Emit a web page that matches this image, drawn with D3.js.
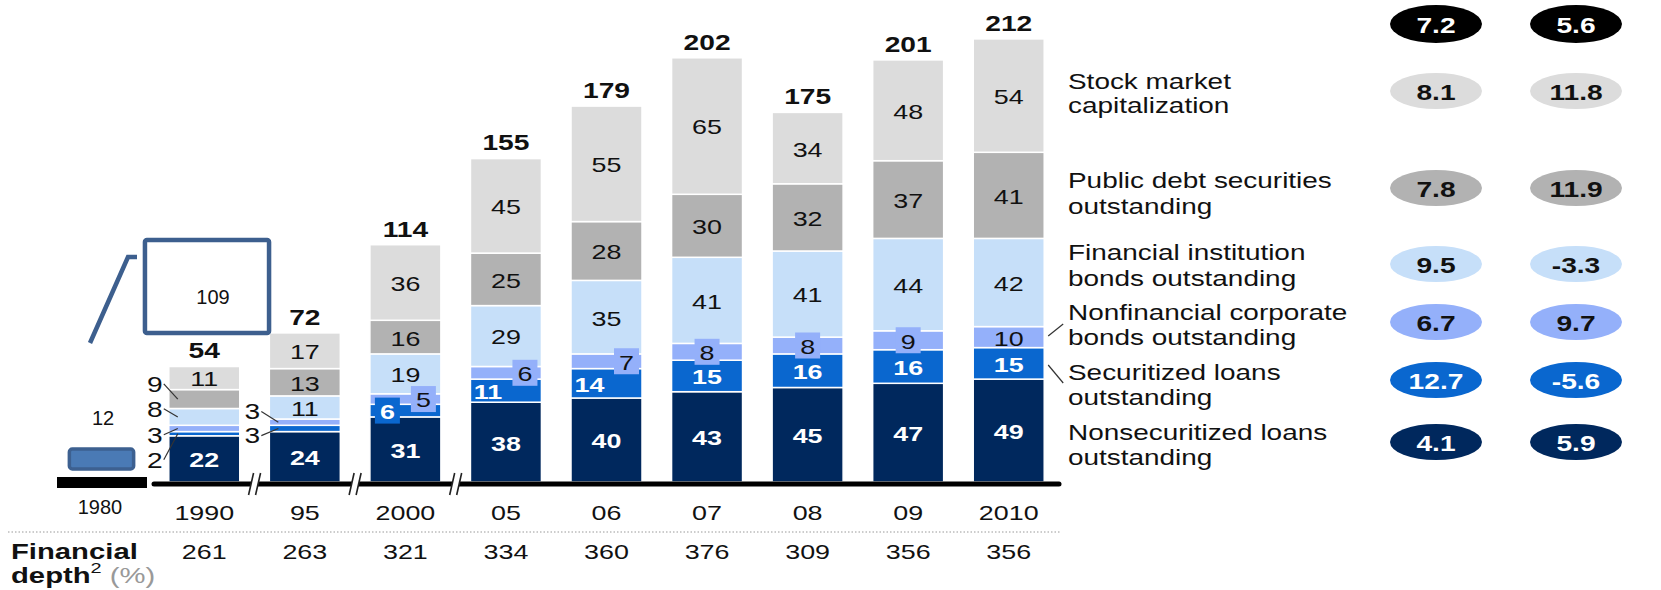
<!DOCTYPE html>
<html>
<head>
<meta charset="utf-8">
<script src="https://cdn.jsdelivr.net/npm/d3@7"></script>
<style>
  body { margin: 0; background: white; }
  text { font-family: "Liberation Sans", Arial, sans-serif; }
</style>
</head>
<body>
<div id="container"></div>
<script>
// Global financial stock by asset class, $ trillion

const width = 1661;
const height = 590;

const years = ["1990", "95", "2000", "05", "06", "07", "08", "09", "2010"];
const nonsecLoans = [22, 24, 31, 38, 40, 43, 45, 47, 49];
const securLoans = [2, 3, 6, 11, 14, 15, 16, 16, 15];
const nonfinBonds = [3, 3, 5, 6, 7, 8, 8, 9, 10];
const finBonds = [8, 11, 19, 29, 35, 41, 41, 44, 42];
const publicDebt = [9, 13, 16, 25, 28, 30, 32, 37, 41];
const stockCap = [11, 17, 36, 45, 55, 65, 34, 48, 54];
const totals = [54, 72, 114, 155, 179, 202, 175, 201, 212];
const finDepth = [261, 263, 321, 334, 360, 376, 309, 356, 356];
const breaksAfter = ["1990", "95", "2000"];

const value1980 = 12;
const value1980Box = 109;

// growth rates, first and second oval column (total first)
const growthTotal = [7.2, 5.6];
const growthA = [4.1, 12.7, 6.7, 9.5, 7.8, 8.1];
const growthB = [5.9, -5.6, 9.7, -3.3, 11.9, 11.8];

const keys = ["nonsec", "secur", "nonfin", "fin", "pub", "stock"];
const seriesLabels = [
    ["Nonsecuritized loans", "outstanding"],
    ["Securitized loans", "outstanding"],
    ["Nonfinancial corporate", "bonds outstanding"],
    ["Financial institution", "bonds outstanding"],
    ["Public debt securities", "outstanding"],
    ["Stock market", "capitalization"]
];

const colors = d3.scaleOrdinal()
    .domain(keys)
    .range(["#00285d", "#0a67cf", "#94b0fa", "#c6dff9", "#b2b2b2", "#dcdcdc"]);

const SX = 1.28; // the source text is stretched sideways

const svg = d3.select("#container")
    .append("svg")
    .attr("width", width)
    .attr("height", height)
    .style("background-color", "white");

function txt(g, x, y, s, o = {}) {
    return g.append("text")
        .attr("transform", `translate(${x},${y}) scale(${o.sx || SX},1)`)
        .attr("text-anchor", o.anchor || "middle")
        .attr("dominant-baseline", "central")
        .style("font-size", (o.size || 21) + "px")
        .style("font-weight", o.bold ? "bold" : "normal")
        .attr("fill", o.fill || "#111")
        .text(s);
}

const table = years.map((y, i) => ({
    year: y,
    nonsec: nonsecLoans[i], secur: securLoans[i], nonfin: nonfinBonds[i],
    fin: finBonds[i], pub: publicDebt[i], stock: stockCap[i],
    total: totals[i], depth: finDepth[i]
}));

const stacked = d3.stack().keys(keys)(table);

const x = d3.scaleBand()
    .domain(years)
    .range([154, 1059])
    .paddingInner(0.294)
    .paddingOuter(0.147);

const baseY = 482;
const y = d3.scaleLinear()
    .domain([0, 212])
    .range([baseY, baseY - 212 * 2.1]);

// bars
const gBars = svg.append("g");
stacked.forEach(s => {
    gBars.selectAll(null)
        .data(s)
        .join("rect")
        .attr("x", d => x(d.data.year))
        .attr("width", x.bandwidth())
        .attr("y", d => y(d[1]))
        .attr("height", d => y(d[0]) - y(d[1]))
        .attr("fill", colors(s.key))
        .attr("stroke", "white")
        .attr("stroke-width", 1.5);
});

// segment labels
const outside = { "1990": ["secur", "nonfin", "fin", "pub"], "95": ["secur", "nonfin"] };
const shift = {
    "2000": { secur: -18, nonfin: 18 },
    "05": { secur: -18, nonfin: 19 },
    "06": { secur: -17, nonfin: 20 }
};
const boxed = { "2000": ["secur", "nonfin"], "05": ["nonfin"], "06": ["nonfin"], "07": ["nonfin"], "08": ["nonfin"], "09": ["nonfin"] };

const gLab = svg.append("g");
stacked.forEach(s => {
    s.forEach(d => {
        const yr = d.data.year;
        if (outside[yr] && outside[yr].includes(s.key)) return;
        const dark = s.key === "nonsec" || s.key === "secur";
        const cx = x(yr) + x.bandwidth() / 2 + ((shift[yr] && shift[yr][s.key]) || 0);
        const cy = (y(d[0]) + y(d[1])) / 2;
        if (boxed[yr] && boxed[yr].includes(s.key)) {
            gLab.append("rect")
                .attr("x", cx - 12.5).attr("y", cy - 13)
                .attr("width", 25).attr("height", 26)
                .attr("fill", colors(s.key));
        }
        txt(gLab, cx, cy + 1, d.data[s.key], { bold: dark, fill: dark ? "white" : "#111" });
    });
});

// labels left of the small early bars, with leader lines
function leader(yr, key, ly, lx) {
    const s = stacked.find(t => t.key === key);
    const d = s.find(t => t.data.year === yr);
    const x0 = x(yr);
    const my = (y(d[0]) + y(d[1])) / 2;
    txt(gLab, x0 - lx, ly, d.data[key], { size: 22 });
    gLab.append("line")
        .attr("x1", x0 - lx + 9).attr("y1", ly)
        .attr("x2", x0 + 9).attr("y2", my)
        .attr("stroke", "#333").attr("stroke-width", 1.2);
}
const navyTop90 = y(nonsecLoans[0]);
leader("1990", "pub", navyTop90 - 52, 14);
leader("1990", "fin", navyTop90 - 27, 14);
leader("1990", "nonfin", navyTop90 - 1, 14);
leader("1990", "secur", navyTop90 + 24, 14);
const navyTop95 = y(nonsecLoans[1]);
leader("95", "nonfin", navyTop95 - 20, 17);
leader("95", "secur", navyTop95 + 4, 17);

// totals
gLab.selectAll(null)
    .data(table)
    .join(enter => enter.append("g"))
    .each(function(d) {
        const top = y(d3.sum(keys, k => d[k]));
        txt(d3.select(this), x(d.year) + x.bandwidth() / 2, top - 16, d.total, { bold: true, size: 22 });
    });

// axis line with break marks
svg.append("line")
    .attr("x1", 154).attr("x2", 1059)
    .attr("y1", baseY + 2).attr("y2", baseY + 2)
    .attr("stroke", "black").attr("stroke-width", 5)
    .attr("stroke-linecap", "round");

breaksAfter.forEach(yr => {
    const i = years.indexOf(yr);
    const bx = (x(yr) + x.bandwidth() + x(years[i + 1])) / 2;
    const by = baseY + 2;
    svg.append("path")
        .attr("d", `M${bx - 6},${by + 11} L${bx - 1},${by - 11} L${bx + 6},${by - 11} L${bx + 1},${by + 11} Z`)
        .attr("fill", "white");
    [-3.5, 3.5].forEach(off => {
        svg.append("line")
            .attr("x1", bx + off - 2.5).attr("y1", by + 11)
            .attr("x2", bx + off + 2.5).attr("y2", by - 11)
            .attr("stroke", "#222").attr("stroke-width", 1.6);
    });
});

// year labels
years.forEach(yr => txt(svg, x(yr) + x.bandwidth() / 2, 513, yr, { size: 21 }));

// 1980 block: area proportional to value
const area = d3.scaleLinear().domain([0, value1980Box]).range([0, 11550]);
const a12 = area(value1980), w12 = Math.sqrt(a12 * 3.25), h12 = a12 / w12;
const a109 = area(value1980Box), w109 = Math.sqrt(a109 * 4 / 3), h109 = a109 / w109;

svg.append("rect")
    .attr("x", 57).attr("y", 477).attr("width", 90).attr("height", 11)
    .attr("fill", "black");
svg.append("rect")
    .attr("x", 101.5 - w12 / 2).attr("y", 459 - h12 / 2)
    .attr("width", w12).attr("height", h12)
    .attr("rx", 3)
    .attr("fill", "#4a7ab5").attr("stroke", "#3d6090").attr("stroke-width", 3.5);
txt(svg, 103, 418, value1980, { sx: 1, size: 20 });
txt(svg, 100, 507, "1980", { sx: 1, size: 20 });

svg.append("rect")
    .attr("x", 207 - w109 / 2).attr("y", 286.5 - h109 / 2)
    .attr("width", w109).attr("height", h109)
    .attr("rx", 2)
    .attr("fill", "white").attr("stroke", "#3d5f8e").attr("stroke-width", 4.5);
txt(svg, 213, 297, value1980Box, { sx: 1, size: 20 });
svg.append("path")
    .attr("d", "M90,343 L128,257 L137,257")
    .attr("fill", "none")
    .attr("stroke", "#3d5f8e").attr("stroke-width", 4.5);

// financial depth row
svg.append("line")
    .attr("x1", 8).attr("x2", 1060)
    .attr("y1", 532).attr("y2", 532)
    .attr("stroke", "#999").attr("stroke-width", 1)
    .attr("stroke-dasharray", "1.5,2");

txt(svg, 11, 551, "Financial", { anchor: "start", bold: true, size: 22, sx: 1.33 });
const dep = txt(svg, 11, 575, "depth", { anchor: "start", bold: true, size: 22, sx: 1.33 });
dep.append("tspan").attr("dy", -7).style("font-size", "15px").style("font-weight", "normal").text("2");
dep.append("tspan").attr("dy", 7).style("font-weight", "normal").attr("fill", "#999").text(" (%)");

years.forEach((yr, i) => txt(svg, x(yr) + x.bandwidth() / 2, 552, finDepth[i], { size: 21 }));

// legend connectors at the 2010 bar
const lastYr = years[years.length - 1];
const rEdge = x(lastYr) + x.bandwidth();
svg.append("line")
    .attr("x1", rEdge + 4).attr("y1", 336).attr("x2", rEdge + 19).attr("y2", 324)
    .attr("stroke", "#333").attr("stroke-width", 1.2);
svg.append("line")
    .attr("x1", rEdge + 4).attr("y1", 365).attr("x2", rEdge + 19).attr("y2", 383)
    .attr("stroke", "#333").attr("stroke-width", 1.2);

// legend text and growth ovals
const legendLineY = [[432, 457], [372, 397], [312, 337], [252, 278], [180, 206], [81, 105]];
const ovalY = [442, 380, 322, 264, 188, 91];
const ovalX = [1436, 1576];

const gLeg = svg.append("g");
seriesLabels.forEach((lines, i) => {
    lines.forEach((l, j) => txt(gLeg, 1068, legendLineY[i][j], l, { anchor: "start", size: 22, sx: 1.27 }));
});

function oval(cx, cy, v, fill, ry) {
    gLeg.append("ellipse")
        .attr("cx", cx).attr("cy", cy)
        .attr("rx", 46).attr("ry", ry)
        .attr("fill", fill);
    const dark = fill === "black" || fill === colors("nonsec") || fill === colors("secur");
    txt(gLeg, cx, cy + 1, v.toFixed(1), { bold: true, size: 22, fill: dark ? "white" : "#111" });
}
growthTotal.forEach((v, j) => oval(ovalX[j], 24, v, "black", 19));
keys.forEach((k, i) => {
    oval(ovalX[0], ovalY[i], growthA[i], colors(k), 18);
    oval(ovalX[1], ovalY[i], growthB[i], colors(k), 18);
});
</script>
</body>
</html>
